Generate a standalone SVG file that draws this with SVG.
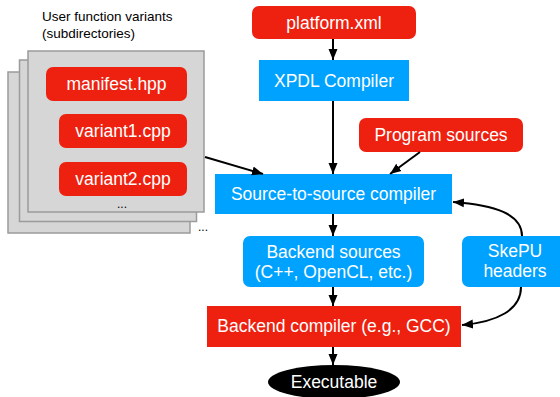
<svg xmlns="http://www.w3.org/2000/svg" width="560" height="397" viewBox="0 0 560 397">
  <style>
    .red { fill: #EE2110; }
    .blue { fill: #00A2FF; }
    .folder { fill: #D6D6D6; stroke: #9B9B9B; stroke-width: 1.5; }
    .lbl { font-family: "Liberation Sans", Arial, sans-serif; font-size: 17.5px; fill: #FFFFFF; text-anchor: middle; }
    .note { font-family: "Liberation Sans", Arial, sans-serif; font-size: 13.5px; fill: #000000; }
    .dots { font-family: "Liberation Sans", Arial, sans-serif; font-size: 12px; fill: #000000; }
    .edge { fill: none; stroke: #000000; stroke-width: 2; }
  </style>
  <defs>
    <marker id="arrow" markerUnits="userSpaceOnUse" markerWidth="12" markerHeight="12" viewBox="0 0 12 12" refX="11" refY="6" orient="auto">
      <path d="M0,1.5 L11,6 L0,10.5 Z" fill="#000000"/>
    </marker>
  </defs>
  <rect width="560" height="397" fill="#FFFFFF"/>

  <!-- stacked subdirectories of user function variants -->
  <g id="variants">
    <text class="note" x="42" y="21">User function variants</text>
    <text class="note" x="42" y="38">(subdirectories)</text>
    <rect class="folder" x="8" y="72" width="182" height="161"/>
    <rect class="folder" x="19.5" y="60" width="177" height="161.5"/>
    <rect class="folder" x="28" y="51" width="176" height="161"/>
    <text class="dots" x="198" y="231">...</text>
    <text class="dots" x="117" y="208">...</text>
  </g>
  <g id="manifest">
    <rect class="red" x="46" y="67" width="141" height="34" rx="7"/>
    <text class="lbl" x="116.5" y="90">manifest.hpp</text>
  </g>
  <g id="variant1">
    <rect class="red" x="59" y="114" width="128" height="34" rx="7"/>
    <text class="lbl" x="123" y="137">variant1.cpp</text>
  </g>
  <g id="variant2">
    <rect class="red" x="59" y="162" width="128" height="34" rx="7"/>
    <text class="lbl" x="123" y="185">variant2.cpp</text>
  </g>

  <g id="platform">
    <rect class="red" x="252" y="6" width="164" height="33" rx="7"/>
    <text class="lbl" x="334" y="28.5">platform.xml</text>
  </g>
  <g id="xpdl">
    <rect class="blue" x="259" y="60" width="150" height="41"/>
    <text class="lbl" x="334" y="86.5">XPDL Compiler</text>
  </g>
  <g id="program">
    <rect class="red" x="359" y="118" width="164" height="34" rx="7"/>
    <text class="lbl" x="441" y="141">Program sources</text>
  </g>
  <g id="s2s">
    <rect class="blue" x="215" y="174" width="237" height="40"/>
    <text class="lbl" x="333.5" y="200">Source-to-source compiler</text>
  </g>
  <g id="backend-sources">
    <rect class="blue" x="243" y="236" width="181" height="51" rx="7"/>
    <text class="lbl" x="333.5" y="258">Backend sources</text>
    <text class="lbl" x="333.5" y="278">(C++, OpenCL, etc.)</text>
  </g>
  <g id="skepu">
    <rect class="blue" x="462" y="236" width="110" height="51" rx="7"/>
    <text class="lbl" x="515" y="257">SkePU</text>
    <text class="lbl" x="515" y="277">headers</text>
  </g>
  <g id="backend-compiler">
    <rect class="red" x="207" y="306" width="254" height="41"/>
    <text class="lbl" x="334" y="332">Backend compiler (e.g., GCC)</text>
  </g>
  <g id="executable">
    <ellipse cx="334" cy="382" rx="66" ry="17" fill="#000000"/>
    <text class="lbl" x="334" y="388">Executable</text>
  </g>

  <g id="connectors">
    <line class="edge" x1="333" y1="39" x2="333" y2="60" marker-end="url(#arrow)"/>
    <line class="edge" x1="333" y1="101" x2="333" y2="174" marker-end="url(#arrow)"/>
    <line class="edge" x1="420" y1="152" x2="390" y2="174" marker-end="url(#arrow)"/>
    <line class="edge" x1="205" y1="157" x2="263" y2="174" marker-end="url(#arrow)"/>
    <line class="edge" x1="333" y1="214" x2="333" y2="236" marker-end="url(#arrow)"/>
    <line class="edge" x1="333" y1="287" x2="333" y2="306" marker-end="url(#arrow)"/>
    <line class="edge" x1="333" y1="347" x2="333" y2="365" marker-end="url(#arrow)"/>
    <path class="edge" d="M522,236 C522,214 495,205 453,202" marker-end="url(#arrow)"/>
    <path class="edge" d="M521,287 C521,310 497,322 462,325" marker-end="url(#arrow)"/>
  </g>
</svg>
